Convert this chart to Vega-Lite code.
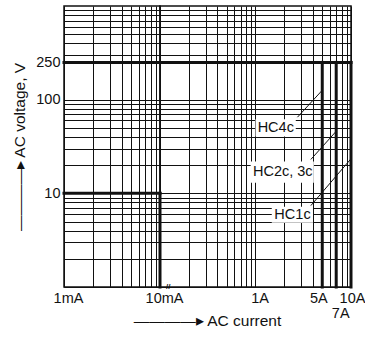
{
  "$schema": "https://vega.github.io/schema/vega-lite/v6.json",
  "padding": {"left": 12, "top": 1, "right": 0, "bottom": 0},
  "background": "white",
  "bounds": "flush",
  "spacing": 0,
  "config": {
    "view": {"stroke": "#111", "strokeWidth": 1.5},
    "axis": {
      "labelFont": "Liberation Sans", "labelFontSize": 14.5, "labelColor": "#111",
      "titleFont": "Liberation Sans", "titleFontSize": 15.5, "titleFontWeight": "normal", "titleColor": "#111",
      "gridColor": "#111", "gridWidth": 1, "gridOpacity": 1,
      "ticks": false, "tickSize": 0, "domain": false, "labelFlush": false, "labelOverlap": false
    },
    "text": {"font": "Liberation Sans", "fontSize": 14.5, "color": "#111"}
  },
  "datasets": {
    "leftLines": [
      {"x": 0.001, "x2": 0.01, "y": 10, "y2": 10},
      {"x": 0.01, "x2": 0.01, "y": 10, "y2": 1},
      {"x": 0.001, "x2": 0.01, "y": 250, "y2": 250}
    ],
    "rightLines": [
      {"x": 0.1, "x2": 10, "y": 250, "y2": 250},
      {"x": 5, "x2": 5, "y": 250, "y2": 1},
      {"x": 7, "x2": 7, "y": 250, "y2": 1},
      {"x": 10, "x2": 10, "y": 250, "y2": 1}
    ],
    "leaders": [
      {"x": 2.75, "y": 65, "x2": 5, "y2": 126},
      {"x": 3.8, "y": 23, "x2": 7, "y2": 46},
      {"x": 3.8, "y": 7.4, "x2": 10, "y2": 23.4}
    ],
    "labels": [
      {"label": "HC4c", "x": 1.63, "y": 50, "bx": 1.0, "bx2": 2.64, "by": 40.5, "by2": 61.7},
      {"label": "HC2c, 3c", "x": 1.93, "y": 16.8, "bx": 0.89, "bx2": 4.08, "by": 13.0, "by2": 21.9},
      {"label": "HC1c", "x": 2.44, "y": 5.9, "bx": 1.48, "bx2": 4.0, "by": 4.85, "by2": 7.2}
    ],
    "breakMark": [{"x": 0.122, "y": 1, "t": "//"}]
  },
  "resolve": {"scale": {"x": "independent", "y": "independent"}},
  "hconcat": [
    {
      "width": 96, "height": 281,
      "layer": [
        {
          "data": {"name": "leftLines"},
          "mark": {"type": "rule", "strokeWidth": 3, "color": "#111", "strokeCap": "square"},
          "encoding": {
            "x": {"field": "x", "type": "quantitative",
              "scale": {"type": "log", "domain": [0.001, 0.01]},
              "axis": {"values": [0.001,0.002,0.003,0.004,0.005,0.006,0.007,0.008,0.009,0.01],
                "labelExpr": "datum.value == 0.001 ? '1mA' : (datum.value == 0.01 ? '10mA' : '')",
                "title": null, "labelPadding": 4, "labelOffset": 4, "labelBaseline": "top"}},
            "x2": {"field": "x2"},
            "y": {"field": "y", "type": "quantitative",
              "scale": {"type": "log", "domain": [1, 1000]},
              "axis": {"values": [1,2,3,4,5,6,7,8,9,10,20,30,40,50,60,70,80,90,100,250,300,400,500,600,700,800,900],
                "labelExpr": "(datum.value == 10 || datum.value == 100 || datum.value == 250) ? datum.value : ''",
                "title": "————▸ AC voltage, V", "labelPadding": 4, "titlePadding": 8}},
            "y2": {"field": "y2"}
          }
        }
      ]
    },
    {
      "width": 191, "height": 281,
      "layer": [
        {
          "data": {"name": "rightLines"},
          "mark": {"type": "rule", "strokeWidth": 3, "color": "#111", "strokeCap": "square"},
          "encoding": {
            "x": {"field": "x", "type": "quantitative",
              "scale": {"type": "log", "domain": [0.1, 10]},
              "axis": {"values": [0.1,0.2,0.3,0.4,0.5,0.6,0.7,0.8,0.9,1,2,3,4,5,6,7,8,9,10],
                "labelExpr": "datum.value == 1 ? '1A' : datum.value == 5 ? '5A' : datum.value == 7 ? '7A' : datum.value == 10 ? '10A' : ''",
                "labelBaseline": "top",
                "labelPadding": {"condition": {"test": "datum.value == 7", "value": 19}, "value": 4},
                "labelOffset": {"condition": [{"test": "datum.value == 5", "value": -4}, {"test": "datum.value == 10", "value": 1}], "value": 4},
                "title": "————▸ AC current", "titleX": 47, "titleY": 26, "titleAlign": "center", "titleBaseline": "top"}},
            "x2": {"field": "x2"},
            "y": {"field": "y", "type": "quantitative",
              "scale": {"type": "log", "domain": [1, 1000]},
              "axis": {"values": [1,2,3,4,5,6,7,8,9,10,20,30,40,50,60,70,80,90,100,250,300,400,500,600,700,800,900],
                "labels": false, "title": null}},
            "y2": {"field": "y2"}
          }
        },
        {
          "data": {"name": "labels"},
          "mark": {"type": "rect", "fill": "white", "stroke": null},
          "encoding": {
            "x": {"field": "bx", "type": "quantitative", "scale": {"type": "log", "domain": [0.1, 10]}},
            "x2": {"field": "bx2"},
            "y": {"field": "by", "type": "quantitative", "scale": {"type": "log", "domain": [1, 1000]}},
            "y2": {"field": "by2"}
          }
        },
        {
          "data": {"name": "leaders"},
          "mark": {"type": "rule", "strokeWidth": 1, "color": "#111"},
          "encoding": {
            "x": {"field": "x", "type": "quantitative"},
            "x2": {"field": "x2"},
            "y": {"field": "y", "type": "quantitative"},
            "y2": {"field": "y2"}
          }
        },
        {
          "data": {"name": "labels"},
          "mark": {"type": "text", "align": "center", "baseline": "middle"},
          "encoding": {
            "x": {"field": "x", "type": "quantitative"},
            "y": {"field": "y", "type": "quantitative"},
            "text": {"field": "label"}
          }
        },
        {
          "data": {"name": "breakMark"},
          "mark": {"type": "text", "align": "center", "baseline": "middle", "fontSize": 8, "fontWeight": "bold"},
          "encoding": {
            "x": {"field": "x", "type": "quantitative"},
            "y": {"field": "y", "type": "quantitative"},
            "text": {"field": "t"}
          }
        }
      ]
    }
  ]
}
